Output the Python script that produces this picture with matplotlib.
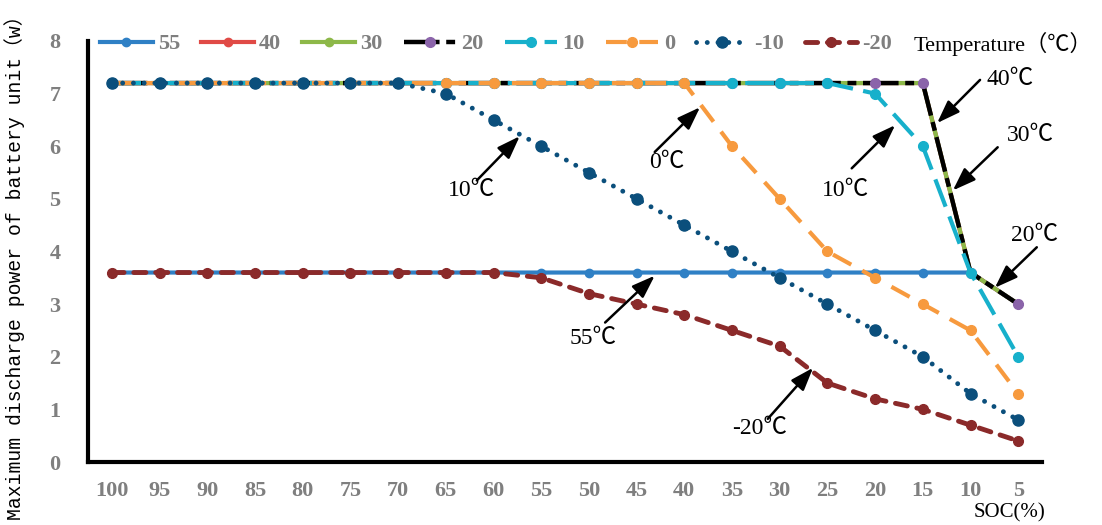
import matplotlib
matplotlib.use("Agg")
import matplotlib.pyplot as plt

soc = ["100", "95", "90", "85", "80", "75", "70", "65", "60", "55",
       "50", "45", "40", "35", "30", "25", "20", "15", "10", "5"]

p55 = [3.6] * 19 + [3.0]
p40 = [7.2] * 18 + [3.6, 3.0]
p30 = [7.2] * 18 + [3.6, 3.0]
p20 = [7.2] * 18 + [3.6, 3.0]
p10 = [7.2] * 16 + [7.0, 6.0, 3.6, 2.0]
p0 = [7.2] * 13 + [6.0, 5.0, 4.0, 3.5, 3.0, 2.5, 1.3]
pm10 = [7.2] * 7 + [7.0, 6.5, 6.0, 5.5, 5.0, 4.5, 4.0, 3.5, 3.0, 2.5, 2.0, 1.3, 0.8]
pm20 = [3.6] * 9 + [3.5, 3.2, 3.0, 2.8, 2.5, 2.2, 1.5, 1.2, 1.0, 0.7, 0.4]

gray = "#7f7f7f"
serif = ["Liberation Serif", "Noto Sans CJK SC"]

fig = plt.figure(figsize=(11.02, 5.25), dpi=100)
ax = fig.add_axes([0.0799, 0.12, 0.8657, 0.802])
x = range(len(soc))

# series, drawn in order so the later ones sit on top
ax.plot(x, p55, color="#2F80C5", lw=3, marker="o", ms=6, label="55")
ax.plot(x, p40, color="#E04A46", lw=3, marker="o", ms=6, label="40")
ax.plot(x, p30, color="#8DB849", lw=3, marker="o", ms=6, label="30")
ax.plot(x, p20, color="black", lw=3.2, marker="o", ms=7, mfc="#8B64AA", mec="#8B64AA",
        dashes=(8, 1.5, 2, 1.5), label="20")
ax.plot(x, p10, color="#17B0CB", lw=3, marker="o", ms=7, dashes=(7, 2.5), label="10")
ax.plot(x, p0, color="#F79A3E", lw=3, marker="o", ms=7, dashes=(5, 3), label="0")
ax.plot(x, pm10, color="#0B4F7C", lw=3.5, marker="o", ms=8, dashes=(0.01, 2.2),
        dash_capstyle="round", label="-10")
ax.plot(x, pm20, color="#8B2A2A", lw=3.5, marker="o", ms=7, dashes=(2.5, 2),
        dash_capstyle="round", label="-20")

ax.set_xlim(-0.5, 19.5)
ax.set_ylim(0, 8)
ax.set_xticks(list(x))
ax.set_xticklabels(soc)
ax.set_yticks(range(0, 9))
ax.tick_params(length=0, labelsize=16, labelcolor=gray, pad=14)
ax.tick_params(axis="y", pad=20)
for lab in ax.get_xticklabels() + ax.get_yticklabels():
    lab.set_fontfamily("Liberation Serif")
    lab.set_fontweight("bold")
for s in ["top", "right"]:
    ax.spines[s].set_visible(False)
for s in ["left", "bottom"]:
    ax.spines[s].set_linewidth(3)

# arrows and labels
notes = [
    ("10℃", (7.55, 5.16), (7.65, 5.35), (8.55, 6.19)),
    ("0℃", (11.64, 5.70), (11.38, 5.89), (12.33, 6.74)),
    ("55℃", (10.08, 2.34), (10.34, 2.65), (11.38, 3.54)),
    ("10℃", (15.37, 5.16), (15.51, 5.58), (16.42, 6.40)),
    ("40℃", (18.83, 7.26), (18.20, 7.26), (17.30, 6.44)),
    ("30℃", (19.25, 6.21), (18.57, 5.98), (17.63, 5.16)),
    ("20℃", (19.35, 4.30), (19.39, 4.08), (18.51, 3.31)),
    ("-20℃", (13.58, 0.63), (13.75, 0.82), (14.70, 1.79)),
]
for txt, tpos, tail, head in notes:
    ax.annotate("", xy=head, xytext=tail,
                arrowprops=dict(arrowstyle="-|>,head_length=1.4,head_width=0.5",
                                color="black", lw=1.8, shrinkA=0, shrinkB=0))
    ax.text(tpos[0], tpos[1], txt, ha="center", va="center", fontsize=17,
            family=serif, clip_on=False)

leg = fig.legend(loc="center left", bbox_to_anchor=(0.091, 0.916), ncol=8, frameon=False,
                 handlelength=2.35, handletextpad=0.25, columnspacing=0.95,
                 borderpad=0, borderaxespad=0,
                 prop={"family": "Liberation Serif", "weight": "bold", "size": 16})
for t in leg.get_texts():
    t.set_color(gray)
fig.text(0.829, 0.916, "Temperature（℃）", ha="left", va="center", fontsize=16, family=serif)

fig.text(0.0136, 0.5, "Maximum discharge power of battery unit（w）", rotation=90,
         ha="center", va="center", fontsize=14.2, family=["Liberation Mono", "Noto Sans CJK SC"])
fig.text(0.9165, 0.023, "SOC(%)", ha="center", va="center", fontsize=15,
         family="Liberation Serif")

fig.savefig("out.png", dpi=100)
